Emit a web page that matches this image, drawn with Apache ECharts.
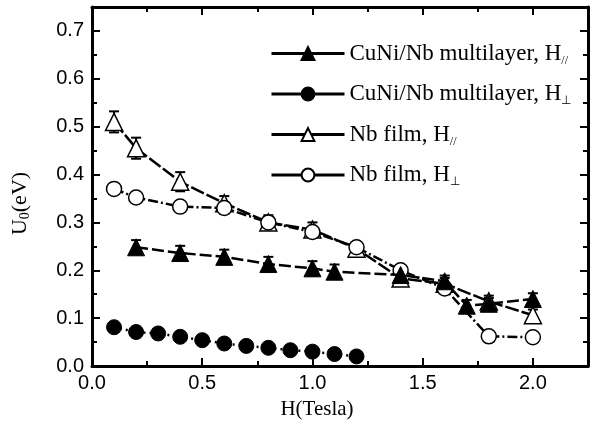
<!DOCTYPE html>
<html><head><meta charset="utf-8">
<script src="https://cdn.jsdelivr.net/npm/echarts@6/dist/echarts.min.js"></script>
<style>html,body{margin:0;padding:0;background:#fff}#c{width:592px;height:428px}</style>
</head><body><div id="c"></div>
<script>
// CuNi/Nb multilayer, H parallel (filled triangles)
const cuniParX = [0.2, 0.4, 0.6, 0.8, 1.0, 1.1, 1.4, 1.6, 1.7, 1.8, 2.0];
const cuniParY = [0.248, 0.236, 0.228, 0.213, 0.204, 0.197, 0.190, 0.177, 0.126, 0.130, 0.140];
const cuniParErr = [0.015, 0.015, 0.015, 0.015, 0.015, 0.015, 0.012, 0.012, 0.012, 0.012, 0.012];
// CuNi/Nb multilayer, H perpendicular (filled circles)
const cuniPerX = [0.1, 0.2, 0.3, 0.4, 0.5, 0.6, 0.7, 0.8, 0.9, 1.0, 1.1, 1.2];
const cuniPerY = [0.081, 0.071, 0.068, 0.061, 0.054, 0.047, 0.042, 0.038, 0.033, 0.030, 0.025, 0.020];
// Nb film, H parallel (open triangles)
const nbParX = [0.1, 0.2, 0.4, 0.6, 0.8, 1.0, 1.2, 1.4, 1.6, 1.8, 2.0];
const nbParY = [0.510, 0.455, 0.385, 0.340, 0.300, 0.285, 0.245, 0.183, 0.172, 0.135, 0.106];
const nbParErr = [0.022, 0.022, 0.02, 0.015, 0.015, 0.015, 0.012, 0.012, 0.012, 0.012, 0.012];
// Nb film, H perpendicular (open circles)
const nbPerX = [0.1, 0.2, 0.4, 0.6, 0.8, 1.0, 1.2, 1.4, 1.6, 1.8, 2.0];
const nbPerY = [0.370, 0.352, 0.333, 0.330, 0.300, 0.280, 0.248, 0.200, 0.162, 0.062, 0.060];
const nbPerErr = [0.01, 0.01, 0.01, 0.012, 0.01, 0.01, 0.01, 0.01, 0.01, 0.01, 0.01];

const xTicks = [0.0, 0.5, 1.0, 1.5, 2.0];
const yTicks = [0.0, 0.1, 0.2, 0.3, 0.4, 0.5, 0.6, 0.7];

const names = ['CuNi/Nb multilayer, H//', 'CuNi/Nb multilayer, H\u22a5', 'Nb film, H//', 'Nb film, H\u22a5'];

function zip(xs, ys) { return xs.map((x, i) => [x, ys[i]]); }
function zipE(xs, ys, es) { return xs.map((x, i) => [x, ys[i], es[i]]); }

function errSeries(data) {
  return {
    type: 'custom', xAxisIndex: 0, yAxisIndex: 0, z: 1, silent: true,
    renderItem: function (params, api) {
      const x = api.value(0), y = api.value(1), e = api.value(2);
      const hi = api.coord([x, y + e]);
      const lo = api.coord([x, y - e]);
      const w = 5;
      const st = { stroke: '#000', lineWidth: 2 };
      return { type: 'group', children: [
        { type: 'line', shape: { x1: hi[0], y1: hi[1], x2: lo[0], y2: lo[1] }, style: st },
        { type: 'line', shape: { x1: hi[0] - w, y1: hi[1], x2: hi[0] + w, y2: hi[1] }, style: st },
        { type: 'line', shape: { x1: lo[0] - w, y1: lo[1], x2: lo[0] + w, y2: lo[1] }, style: st }
      ] };
    },
    data: data
  };
}

const serif = 'Liberation Serif, Times New Roman, serif';
const sans = 'Liberation Sans, Arial, sans-serif';

const chart = echarts.init(document.getElementById('c'), null, { renderer: 'canvas' });
function axisCommon() {
  return {
    axisLine: { show: true, onZero: false, lineStyle: { color: '#000', width: 3 } },
    axisTick: { show: true, inside: true, length: 8, lineStyle: { color: '#000', width: 2 } },
    minorTick: { show: true, splitNumber: 2, length: 5, lineStyle: { color: '#000', width: 2 } },
    splitLine: { show: false }
  };
}
chart.setOption({
  animation: false,
  backgroundColor: '#fff',
  grid: { left: 92, right: 4, top: 7, bottom: 62 },
  xAxis: [
    Object.assign({ type: 'value', min: 0, max: 2.25, interval: 0.5, position: 'bottom',
      name: 'H(Tesla)', nameLocation: 'middle', nameGap: 33,
      nameTextStyle: { fontFamily: serif, fontSize: 21, color: '#000', padding: [0, 46, 0, 0] },
      axisLabel: { fontFamily: sans, fontSize: 20, color: '#000', margin: 7,
        formatter: v => xTicks.includes(+v.toFixed(2)) ? v.toFixed(1) : '' } }, axisCommon()),
    Object.assign({ type: 'value', min: 0, max: 2.25, interval: 0.5, position: 'top',
      axisLabel: { show: false } }, axisCommon())
  ],
  yAxis: [
    Object.assign({ type: 'value', min: 0, max: 0.75, interval: 0.1, position: 'left',
      name: '{m|U}{s|0}{m|(eV)}', nameLocation: 'middle', nameGap: 60, nameRotate: 90,
      nameTextStyle: { padding: [0, 34, 0, 0], rich: {
        m: { fontFamily: serif, fontSize: 22, color: '#000' },
        s: { fontFamily: serif, fontSize: 14, color: '#000', verticalAlign: 'bottom', padding: [10, 0, 0, 0] } } },
      axisLabel: { fontFamily: sans, fontSize: 20, color: '#000', margin: 8,
        formatter: v => yTicks.includes(+v.toFixed(2)) ? v.toFixed(1) : '' } }, axisCommon()),
    Object.assign({ type: 'value', min: 0, max: 0.75, interval: 0.1, position: 'right',
      axisLabel: { show: false } }, axisCommon())
  ],
  legend: {
    orient: 'vertical', left: 265, top: 37, itemGap: 16, itemWidth: 73, itemHeight: 16,
    data: names,
    lineStyle: { type: 'solid', width: 3, color: '#000' },
    formatter: function (n) {
      if (n.endsWith('//')) return '{m|' + n.slice(0, -2) + '}{s|//}';
      return '{m|' + n.slice(0, -1) + '}{s|\u22a5}';
    },
    textStyle: { rich: {
      m: { fontFamily: serif, fontSize: 23, color: '#000' },
      s: { fontFamily: serif, fontSize: 12, color: '#000', verticalAlign: 'bottom', padding: [14, 0, 0, 0] } } }
  },
  series: [
    errSeries(zipE(nbParX, nbParY, nbParErr)),
    errSeries(zipE(nbPerX, nbPerY, nbPerErr)),
    errSeries(zipE(cuniParX, cuniParY, cuniParErr)),
    { name: names[0], type: 'line', data: zip(cuniParX, cuniParY), z: 4,
      symbol: 'triangle', symbolSize: 17,
      lineStyle: { color: '#000', width: 2.5, type: [12, 4] },
      itemStyle: { color: '#000', borderColor: '#000', borderWidth: 1 } },
    { name: names[1], type: 'line', data: zip(cuniPerX, cuniPerY), z: 4,
      symbol: 'circle', symbolSize: 15,
      lineStyle: { color: '#000', width: 2.5, type: [2, 4] },
      itemStyle: { color: '#000', borderColor: '#000', borderWidth: 1 } },
    { name: names[2], type: 'line', data: zip(nbParX, nbParY), z: 3,
      symbol: 'triangle', symbolSize: 17,
      lineStyle: { color: '#000', width: 2.5, type: [14, 3] },
      itemStyle: { color: '#fff', borderColor: '#000', borderWidth: 1.5 } },
    { name: names[3], type: 'line', data: zip(nbPerX, nbPerY), z: 3,
      symbol: 'circle', symbolSize: 15,
      lineStyle: { color: '#000', width: 2.5, type: [10, 3, 2, 3] },
      itemStyle: { color: '#fff', borderColor: '#000', borderWidth: 1.5 } }
  ]
});
</script></body></html>
